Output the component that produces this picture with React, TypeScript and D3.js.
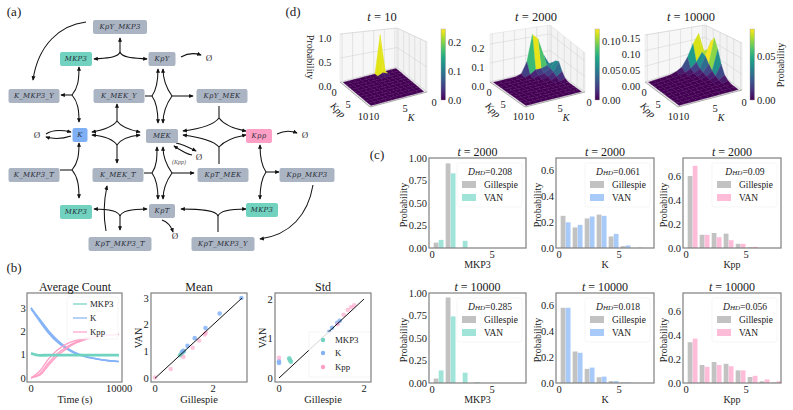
import React from "react";
import * as d3 from "d3";

const FONT = "'Liberation Serif', serif";
const TEAL = "#6fd3c0";
const BLUE = "#84b3f7";
const PINK = "#ff9fc6";
const FRAME = "#7f7f7f";

// ---- (b) data ----
const timePoints = [0, 1000, 2000, 3000, 4000, 5000, 6000, 7000, 8000, 9000, 10000];
const countMKP3 = [1.06, 0.97, 0.98, 0.98, 0.98, 0.98, 0.98, 0.98, 0.98, 0.98, 0.98];
const countK = [
  [3.0, 2.52, 2.03, 1.63, 1.32, 1.1, 0.96, 0.86, 0.79, 0.74, 0.7],
  [2.96, 2.42, 1.92, 1.53, 1.26, 1.05, 0.93, 0.84, 0.78, 0.74, 0.71],
  [3.02, 2.47, 1.97, 1.57, 1.28, 1.07, 0.94, 0.85, 0.78, 0.73, 0.7],
];
const countKpp = [
  [0, 0.18, 0.65, 1.05, 1.32, 1.53, 1.67, 1.75, 1.8, 1.84, 1.87],
  [0, 0.3, 0.82, 1.2, 1.45, 1.6, 1.7, 1.77, 1.82, 1.85, 1.87],
  [0.02, 0.12, 0.55, 0.95, 1.25, 1.48, 1.63, 1.73, 1.8, 1.84, 1.87],
];

const meanMKP3 = [[0.98, 1.0], [0.96, 0.98], [0.93, 0.95], [0.9, 0.9], [1.0, 1.02], [0.86, 0.86]];
const meanK = [[2.98, 3.0], [2.23, 2.42], [1.74, 1.88], [1.37, 1.5], [1.12, 1.21], [0.98, 1.03], [0.93, 0.98]];
const meanKpp = [[0, 0.03], [0.54, 0.35], [0.98, 0.8], [1.3, 1.14], [1.52, 1.41], [1.71, 1.64], [1.75, 1.7]];

const stdMKP3 = [[0.24, 0.5], [0.25, 0.47], [0.27, 0.43], [0.28, 0.41]];
const stdK = [[0, 0.42], [0, 0.38], [1.18, 1.17], [1.25, 1.27], [1.37, 1.4], [1.43, 1.45]];
const stdKpp = [[0, 0.51], [1.38, 1.36], [1.52, 1.6], [1.62, 1.72], [1.7, 1.79], [1.77, 1.84]];

// ---- (c) data ----
const binsGray2000MKP3 = [0.06, 0.94, 0, 0, 0, 0, 0, 0];
const binsVan2000MKP3 = [0.09, 0.83, 0.08, 0, 0, 0, 0, 0];
const binsGray2000K = [0.25, 0.16, 0.23, 0.26, 0.09, 0.015, 0, 0];
const binsVan2000K = [0.2, 0.18, 0.245, 0.25, 0.11, 0.02, 0.003, 0];
const binsGray2000Kpp = [0.6, 0.11, 0.125, 0.12, 0.035, 0.005, 0, 0];
const binsVan2000Kpp = [0.685, 0.11, 0.09, 0.065, 0.035, 0.01, 0, 0];
const binsGray10000MKP3 = [0.05, 0.95, 0, 0, 0, 0, 0, 0];
const binsVan10000MKP3 = [0.14, 0.74, 0.115, 0.01, 0, 0, 0, 0];
const binsGray10000K = [0.585, 0.245, 0.11, 0.045, 0.015, 0.005, 0, 0];
const binsVan10000K = [0.585, 0.235, 0.12, 0.05, 0.015, 0.005, 0, 0];
const binsGray10000Kpp = [0.34, 0.15, 0.175, 0.16, 0.105, 0.05, 0.015, 0.005];
const binsVan10000Kpp = [0.37, 0.135, 0.15, 0.14, 0.105, 0.06, 0.03, 0.015];

// ---- (d) data: rows are Kpp = 0.., columns are K = 0.. (missing = 0) ----
const surfT10 = [
  [0, 0, 0, 0.9],
  [0, 0, 0, 0.05],
];
const surfT2000 = [
  [0.03, 0.09, 0.19, 0.22, 0.07, 0.01],
  [0.05, 0.04, 0.03, 0.03, 0.01],
  [0.075, 0.04, 0.015, 0.01],
  [0.085, 0.03, 0.01],
  [0.04, 0.015],
  [0.01],
];
const surfT10000 = [
  [0.05, 0.125, 0.09, 0.045, 0.015, 0.005],
  [0.065, 0.06, 0.03, 0.012, 0.003],
  [0.105, 0.055, 0.015, 0.005],
  [0.125, 0.035, 0.01],
  [0.09, 0.018, 0.005],
  [0.045, 0.008],
  [0.015, 0.003],
  [0.005],
];

// ---- (a) diagram ----
const nodes: [string, number, number, number, string][] = [
  ["KpY_MKP3", 120, 27, 54, "g"], ["MKP3", 76, 59, 32, "t"], ["KpY", 162, 59, 27, "g"],
  ["K_MKP3_Y", 34, 96, 51, "g"], ["K_MEK_Y", 119, 96, 51, "g"], ["KpY_MEK", 222, 96, 51, "g"],
  ["K", 80, 135, 15, "b"], ["MEK", 162, 136, 32, "g"], ["Kpp", 259, 136, 26, "p"],
  ["K_MKP3_T", 34, 175, 51, "g"], ["K_MEK_T", 118, 175, 51, "g"], ["KpT_MEK", 223, 175, 51, "g"],
  ["Kpp_MKP3", 307, 175, 55, "g"], ["MKP3", 76, 212, 32, "t"], ["KpT", 162, 211, 26, "g"],
  ["MKP3", 262, 210, 32, "t"], ["KpT_MKP3_T", 120, 244, 63, "g"], ["KpT_MKP3_Y", 223, 244, 63, "g"],
];
const nodeFill: Record<string, string> = { g: "#abb4c2", t: "#70d2bf", b: "#7fb0f6", p: "#ff9fc6" };
const voidMarks: [number, number][] = [[209, 58], [37, 135], [199, 157], [305, 135], [175, 236]];
const arrows = [
  "M86,22 C60,25 38,45 33,80",
  "M120,52 L120,38", "M120,52 C118,58 105,58 94,59", "M120,52 C122,58 135,58 147,59",
  "M181,57 C188,53 195,53 201,55",
  "M72,95 L61,95", "M72,95 C78,88 79,80 79,67", "M72,95 C78,102 79,110 79,122",
  "M117,121 L117,104", "M117,121 C113,127 103,130 92,132", "M117,121 C121,127 130,130 140,132",
  "M117,145 L117,163", "M117,145 C113,139 103,136 92,135", "M117,145 C121,139 130,136 140,135",
  "M152,96 C157,89 158,80 158,69", "M152,96 C157,103 158,112 158,123",
  "M172,96 C167,89 163,80 163,69", "M172,96 C167,103 163,112 163,123", "M172,96 L193,96",
  "M219,118 C213,126 198,129 183,131", "M219,118 C225,126 235,129 246,131",
  "M219,147 C213,140 198,137 183,135", "M219,147 C225,140 235,137 246,135",
  "M152,173 C157,166 157,157 157,147", "M152,173 C157,180 158,189 158,199",
  "M172,173 C167,166 163,157 163,147", "M172,173 C167,180 163,189 163,199", "M172,173 L194,173",
  "M176,143 C185,145 190,148 196,151", "M192,155 C186,154 180,150 174,146",
  "M46,134 C53,129 62,130 71,132", "M71,136 C62,139 53,139 46,137",
  "M72,170 C78,163 79,155 79,143", "M72,170 C78,177 79,186 79,198",
  "M120,216 C118,210 105,209 94,209", "M120,216 C122,210 135,209 147,209", "M120,216 L120,230",
  "M106,231 C103,215 104,200 107,186",
  "M162,220 C168,222 171,226 173,232",
  "M218,216 C216,210 200,209 181,209", "M218,216 C220,210 232,209 246,209",
  "M266,172 C261,165 260,156 260,145", "M266,172 C261,179 260,188 260,199", "M266,172 L279,172",
  "M277,134 C285,130 292,131 297,133",
  "M313,185 C308,215 290,235 260,239",
];
const plainLines = ["M145,96 L152,96", "M219,106 L219,118", "M219,164 L219,147", "M144,173 L152,173", "M60,170 L72,170", "M218,216 L218,232"];

const Txt: React.FC<any> = ({ children, size = 10.5, anchor = "middle", ...rest }) => (
  <text fontFamily={FONT} fontSize={size} textAnchor={anchor} dominantBaseline="central" fill="#1a1a1a" {...rest}>
    {children}
  </text>
);

const Diagram = () => (
  <g>
    <defs>
      <marker id="ah" viewBox="0 0 6 6" refX="5" refY="3" markerWidth="4.4" markerHeight="4.4" orient="auto">
        <path d="M0,0.4 L6,3 L0,5.6 Z" fill="#111" />
      </marker>
    </defs>
    {plainLines.map((d, i) => <path key={i} d={d} fill="none" stroke="#111" strokeWidth={1.05} />)}
    {arrows.map((d, i) => <path key={i} d={d} fill="none" stroke="#111" strokeWidth={1.05} markerEnd="url(#ah)" />)}
    {nodes.map(([name, cx, cy, w, kind], i) => (
      <g key={i}>
        <rect x={cx - w / 2} y={cy - 7} width={w} height={14} rx={2} fill={nodeFill[kind]} />
        <text x={cx} y={cy} fontFamily="'DejaVu Serif', serif" fontStyle="italic" fontSize={6.9} letterSpacing={0.3}
          textAnchor="middle" dominantBaseline="central" fill="#252b36">{name}</text>
      </g>
    ))}
    {voidMarks.map(([x, y], i) => <Txt key={i} x={x} y={y} size={9} fill="#333">Ø</Txt>)}
    <Txt x={179} y={162} size={6} fontStyle="italic" fill="#555">(Kpp)</Txt>
  </g>
);

// ---- (b) ----
const CountPanel = () => {
  const x = d3.scaleLinear().domain([0, 10000]).range([31, 119]);
  const y = d3.scaleLinear().domain([0, 3]).range([378, 308]);
  const line = d3.line<number>().x((_, i) => x(timePoints[i])).y((d) => y(d)).curve(d3.curveMonotoneX);
  return (
    <g>
      {countK.map((s, i) => <path key={i} d={line(s) ?? ""} fill="none" stroke={BLUE} strokeWidth={1.4} />)}
      {countKpp.map((s, i) => <path key={i} d={line(s) ?? ""} fill="none" stroke={PINK} strokeWidth={1.4} />)}
      <path d={line(countMKP3) ?? ""} fill="none" stroke={TEAL} strokeWidth={2.8} />
      <rect x={67} y={297} width={51} height={42} rx={2} fill="#fff" fillOpacity={0.85} stroke="#eee" strokeWidth={0.6} />
      {[["MKP3", TEAL, 304], ["K", BLUE, 318], ["Kpp", PINK, 332]].map(([n, c, ly]) => (
        <g key={n as string}>
          <line x1={73} x2={87} y1={ly as number} y2={ly as number} stroke={c as string} strokeWidth={1.2} />
          <Txt x={90} y={ly} size={8.8} anchor="start">{n}</Txt>
        </g>
      ))}
      <rect x={27} y={293} width={95} height={89} fill="none" stroke={FRAME} strokeWidth={1.2} />
      {y.ticks(3).map((t) => <Txt key={t} x={23} y={y(t)} anchor="middle">{t}</Txt>)}
      <Txt x={x(0)} y={388}>0</Txt>
      <Txt x={x(10000)} y={388}>10000</Txt>
      <Txt x={75} y={287} size={12}>Average Count</Txt>
      <Txt x={75} y={399} size={10.3}>Time (s)</Txt>
    </g>
  );
};

const ScatterPanel: React.FC<any> = ({ title, frame, xr, yr, maxV, xTicks, yTicks, labelX, mkp3, k, kpp, legend }) => {
  const x = d3.scaleLinear().domain([0, maxV]).range(xr);
  const y = d3.scaleLinear().domain([0, maxV]).range(yr);
  const dots = (pts: number[][], c: string, o: number) =>
    pts.map((p, i) => <circle key={c + i} cx={x(p[0])} cy={y(p[1])} r={2.3} fill={c} fillOpacity={o} />);
  return (
    <g>
      {dots(mkp3, TEAL, 0.8)}
      {dots(k, BLUE, 0.85)}
      {dots(kpp, PINK, 0.6)}
      <line x1={x(0)} y1={y(0)} x2={x(maxV)} y2={y(maxV)} stroke="#111" strokeWidth={1} />
      {legend && (
        <g>
          <rect x={309} y={332} width={62} height={45} fill="#fff" fillOpacity={0.82} stroke="#eee" strokeWidth={0.6} />
          {[["MKP3", TEAL, 340], ["K", BLUE, 353], ["Kpp", PINK, 367]].map(([n, c, ly]) => (
            <g key={n as string}>
              <circle cx={323} cy={ly as number} r={2.2} fill={c as string} />
              <Txt x={335} y={ly} size={8.8} anchor="start">{n}</Txt>
            </g>
          ))}
        </g>
      )}
      <rect x={frame[0]} y={293} width={frame[1] - frame[0]} height={89} fill="none" stroke={FRAME} strokeWidth={1.2} />
      {yTicks.map((t: number) => <Txt key={t} x={frame[0] - 5} y={y(t)}>{t}</Txt>)}
      {xTicks.map((t: number) => <Txt key={t} x={x(t)} y={388}>{t}</Txt>)}
      <Txt x={(frame[0] + frame[1]) / 2} y={287} size={12}>{title}</Txt>
      <Txt x={(frame[0] + frame[1]) / 2} y={399.5} size={10.4}>Gillespie</Txt>
      <Txt x={labelX} y={338} size={10} transform={`rotate(-90 ${labelX} 338)`}>VAN</Txt>
    </g>
  );
};

// ---- (c) ----
const HistPanel: React.FC<any> = ({ left, width, top, bottom, yMax, yTicks, fmt, gray, van, color, name, t, dhd, labelX }) => {
  const x = d3.scaleLinear().domain([0, 8]).range([left + 3, left + 99]);
  const y = d3.scaleLinear().domain([0, yMax]).range([bottom, top]);
  const cx = left + width / 2;
  const lx = left + width - 69;
  return (
    <g>
      {gray.map((v: number, i: number) => (
        <g key={i}>
          <rect x={x(i + 0.14)} y={y(v)} width={x(0.4) - x(0)} height={bottom - y(v)} fill="#c2c2c2" />
          <rect x={x(i + 0.56)} y={y(van[i])} width={x(0.4) - x(0)} height={bottom - y(van[i])} fill={color} />
        </g>
      ))}
      <rect x={lx} y={top + 5} width={65} height={44} rx={2} fill="#fff" fillOpacity={0.85} stroke="#f0f0f0" strokeWidth={0.6} />
      <Txt x={lx + 33} y={top + 13} size={9.6}>
        <tspan fontStyle="italic">D</tspan><tspan fontStyle="italic" fontSize={7} dy={2}>HD</tspan><tspan dy={-2}>={dhd}</tspan>
      </Txt>
      <rect x={lx + 5} y={top + 23} width={14} height={7} fill="#c2c2c2" />
      <Txt x={lx + 27} y={top + 26.5} size={9.4} anchor="start">Gillespie</Txt>
      <rect x={lx + 5} y={top + 36} width={14} height={7} fill={color} />
      <Txt x={lx + 27} y={top + 39.5} size={9.4} anchor="start">VAN</Txt>
      <rect x={left} y={top} width={width} height={bottom - top} fill="none" stroke={FRAME} strokeWidth={1.2} />
      {yTicks.map((v: number) => <Txt key={v} x={left - 2} y={y(v)} anchor="end">{fmt(v)}</Txt>)}
      {[0, 5].map((v) => <Txt key={v} x={x(v)} y={bottom + 6}>{v}</Txt>)}
      <Txt x={cx} y={bottom + 16} size={10}>{name}</Txt>
      <Txt x={labelX} y={(top + bottom) / 2 + 2} size={10} transform={`rotate(-90 ${labelX} ${(top + bottom) / 2 + 2})`}>Probability</Txt>
      <Txt x={cx} y={top - 6} size={12}><tspan fontStyle="italic">t</tspan> = {t}</Txt>
    </g>
  );
};

// ---- (d) ----
const SurfacePanel: React.FC<any> = ({ grid, corners, heights, zMax, vMax, zTicks, zFmt, zX, barX, cTicks, cFmt, t, titleX, off, gid }) => {
  const unit = d3.scaleLinear().domain([-0.4, 10.4]).range([0, 1]);
  const mix = (a: number[], u: number, v: number) =>
    (a[0] * (1 - u) + a[1] * u) * (1 - v) + (a[2] * (1 - u) + a[3] * u) * v;
  const xs = corners.map((c: number[]) => c[0]);
  const ys = corners.map((c: number[]) => c[1]);
  const proj = (k: number, kpp: number, z: number): [number, number] => {
    const u = unit(k);
    const v = unit(kpp);
    return [mix(xs, u, v), mix(ys, u, v) - (mix(heights, u, v) * z) / zMax];
  };
  const val = (kpp: number, k: number) => grid[kpp]?.[k] ?? 0;
  const poly = (pts: [number, number][]) => "M" + pts.map((p) => p.join(",")).join("L") + "Z";
  const color = d3.scaleSequential(d3.interpolateViridis).domain([0, vMax]).clamp(true);
  const cells: any[] = [];
  const idx = d3.range(10);
  const order = idx.flatMap((a) => idx.map((b) => [a, b])).sort((p, q) => p[0] + p[1] - q[0] - q[1]);
  order.forEach(([kpp, k]) => {
    const a = val(kpp, k), b = val(kpp, k + 1), c = val(kpp + 1, k + 1), e = val(kpp + 1, k);
    const f = color((a + b + c + e) / 4);
    cells.push(
      <path key={`${kpp}-${k}`} d={poly([proj(k, kpp, a), proj(k + 1, kpp, b), proj(k + 1, kpp + 1, c), proj(k, kpp + 1, e)])}
        fill={f} stroke={f} strokeWidth={0.3} />
    );
  });
  const gridVals = [0, 2, 4, 6, 8, 10];
  const cy = d3.scaleLinear().domain([0, vMax]).range([100, 29]);
  const stops = d3.range(0, 1.001, 0.1);
  const lo = -0.4, hi = 10.4;
  return (
    <g>
      <path d={poly([proj(lo, lo, 0), proj(hi, lo, 0), proj(hi, lo, zMax), proj(lo, lo, zMax)])} fill="#f7f7f7" stroke="#ddd" strokeWidth={0.5} />
      <path d={poly([proj(lo, lo, 0), proj(lo, hi, 0), proj(lo, hi, zMax), proj(lo, lo, zMax)])} fill="#f3f3f3" stroke="#ddd" strokeWidth={0.5} />
      <path d={poly([proj(lo, lo, 0), proj(hi, lo, 0), proj(hi, hi, 0), proj(lo, hi, 0)])} fill="#e6e6e6" />
      {gridVals.map((g) => (
        <g key={g} stroke="#cfcfcf" strokeWidth={0.5}>
          <line x1={proj(g, lo, 0)[0]} y1={proj(g, lo, 0)[1]} x2={proj(g, lo, zMax)[0]} y2={proj(g, lo, zMax)[1]} />
          <line x1={proj(lo, g, 0)[0]} y1={proj(lo, g, 0)[1]} x2={proj(lo, g, zMax)[0]} y2={proj(lo, g, zMax)[1]} />
        </g>
      ))}
      {zTicks.map((z: number) => (
        <g key={z} stroke="#cfcfcf" strokeWidth={0.5} fill="none">
          <path d={`M${proj(hi, lo, z).join(",")}L${proj(lo, lo, z).join(",")}L${proj(lo, hi, z).join(",")}`} />
        </g>
      ))}
      {cells}
      <path d={`M${proj(hi, lo, 0).join(",")}L${proj(hi, hi, 0).join(",")}L${proj(lo, hi, 0).join(",")}`} fill="none" stroke="#999" strokeWidth={0.8} />
      {zTicks.map((z: number) => <Txt key={z} x={zX} y={86 - (48 * z) / zMax}>{zFmt(z)}</Txt>)}
      {[[0, 1], [5, 15], [10, 30]].map(([v, dx]) => (
        <Txt key={v} x={off + 333 + dx} y={92 + (dx * 24) / 30}>{v}</Txt>
      ))}
      {[[10, 0], [5, 31], [0, 60]].map(([v, dx]) => (
        <Txt key={v} x={off + 374 + dx} y={116 - (dx * 14) / 60}>{v}</Txt>
      ))}
      <Txt x={off + 338} y={110} size={10} fontStyle="italic" transform={`rotate(45 ${off + 338} 110)`}>Kpp</Txt>
      <Txt x={off + 411} y={117} size={10} fontStyle="italic">K</Txt>
      <defs>
        <linearGradient id={gid} x1="0" y1="1" x2="0" y2="0">
          {stops.map((s) => <stop key={s} offset={s} stopColor={d3.interpolateViridis(s)} />)}
        </linearGradient>
      </defs>
      <rect x={barX} y={29} width={4.5} height={71} fill={`url(#${gid})`} stroke="#999" strokeWidth={0.4} />
      {cTicks.map((c: number) => <Txt key={c} x={barX + 7} y={cy(c)} anchor="start">{cFmt(c)}</Txt>)}
      <Txt x={titleX} y={17} size={12.5}><tspan fontStyle="italic">t</tspan> = {t}</Txt>
    </g>
  );
};

const fmt1 = d3.format(".1f");
const fmt2 = d3.format(".2f");

export default function App() {
  return (
    <svg width={793} height={410} style={{ position: "absolute", left: 0, top: 0, background: "#fff" }}>
      <Txt x={14} y={11} size={13}>(a)</Txt>
      <Txt x={14} y={267} size={13}>(b)</Txt>
      <Txt x={377} y={154} size={13}>(c)</Txt>
      <Txt x={293} y={11} size={13}>(d)</Txt>
      <Diagram />
      <CountPanel />
      <ScatterPanel title="Mean" frame={[151, 247]} xr={[155, 242]} yr={[378.3, 298]} maxV={3} xTicks={[0, 2]} yTicks={[0, 1, 2, 3]}
        labelX={138} mkp3={meanMKP3} k={meanK} kpp={meanKpp} />
      <ScatterPanel title="Std" frame={[275, 371]} xr={[279, 364]} yr={[378, 299]} maxV={2} xTicks={[0, 2]} yTicks={[0, 1, 2]}
        labelX={262} mkp3={stdMKP3} k={stdK} kpp={stdKpp} legend />

      <HistPanel left={429} width={97} top={158} bottom={248} yMax={1} yTicks={[0, 0.25, 0.5, 0.75, 1]} fmt={fmt2} gray={binsGray2000MKP3} van={binsVan2000MKP3} color="#a0e4d9" name="MKP3" t={2000} dhd="0.208" labelX={403} />
      <HistPanel left={556} width={98} top={158} bottom={248} yMax={0.7} yTicks={[0, 0.2, 0.4, 0.6]} fmt={fmt1} gray={binsGray2000K} van={binsVan2000K} color="#a8caf9" name="K" t={2000} dhd="0.061" labelX={537} />
      <HistPanel left={683} width={98} top={158} bottom={248} yMax={0.75} yTicks={[0, 0.2, 0.4, 0.6]} fmt={fmt1} gray={binsGray2000Kpp} van={binsVan2000Kpp} color="#ffbcd9" name="Kpp" t={2000} dhd="0.09" labelX={663} />
      <HistPanel left={429} width={97} top={293} bottom={383} yMax={1} yTicks={[0, 0.25, 0.5, 0.75, 1]} fmt={fmt2} gray={binsGray10000MKP3} van={binsVan10000MKP3} color="#a0e4d9" name="MKP3" t={10000} dhd="0.285" labelX={403} />
      <HistPanel left={556} width={98} top={293} bottom={383} yMax={0.7} yTicks={[0, 0.2, 0.4, 0.6]} fmt={fmt1} gray={binsGray10000K} van={binsVan10000K} color="#a8caf9" name="K" t={10000} dhd="0.018" labelX={537} />
      <HistPanel left={683} width={98} top={293} bottom={383} yMax={0.75} yTicks={[0, 0.2, 0.4, 0.6]} fmt={fmt1} gray={binsGray10000Kpp} van={binsVan10000Kpp} color="#ffbcd9" name="Kpp" t={10000} dhd="0.056" labelX={663} />

      <SurfacePanel grid={surfT10} corners={[[397, 67], [340, 82], [427, 92], [370, 107]]} heights={[39, 48, 50, 55]} zMax={1} vMax={0.249}
        zTicks={[0, 0.5, 1]} zFmt={fmt1} zX={325} barX={441} cTicks={[0, 0.1, 0.2]} cFmt={fmt1} t={10} titleX={382} off={0} gid="cb1" />
      <SurfacePanel grid={surfT2000} corners={[[550, 67], [490, 82], [585, 92], [525, 107]]} heights={[42, 48, 39, 50]} zMax={0.253} vMax={0.122}
        zTicks={[0, 0.1, 0.2]} zFmt={fmt1} zX={478} barX={595} cTicks={[0, 0.05, 0.1]} cFmt={fmt2} t={2000} titleX={536} off={155} gid="cb2" />
      <SurfacePanel grid={surfT10000} corners={[[705, 62], [645, 82], [742, 90], [678, 107]]} heights={[37, 47, 47, 52]} zMax={0.15} vMax={0.081}
        zTicks={[0, 0.05, 0.1, 0.15]} zFmt={fmt2} zX={631} barX={750} cTicks={[0, 0.05]} cFmt={fmt2} t={10000} titleX={691} off={310} gid="cb3" />
      <Txt x={310} y={57} size={10} transform="rotate(90 310 57)">Probability</Txt>
      <Txt x={780} y={65} size={10} transform="rotate(-90 780 65)">Probability</Txt>
    </svg>
  );
}
